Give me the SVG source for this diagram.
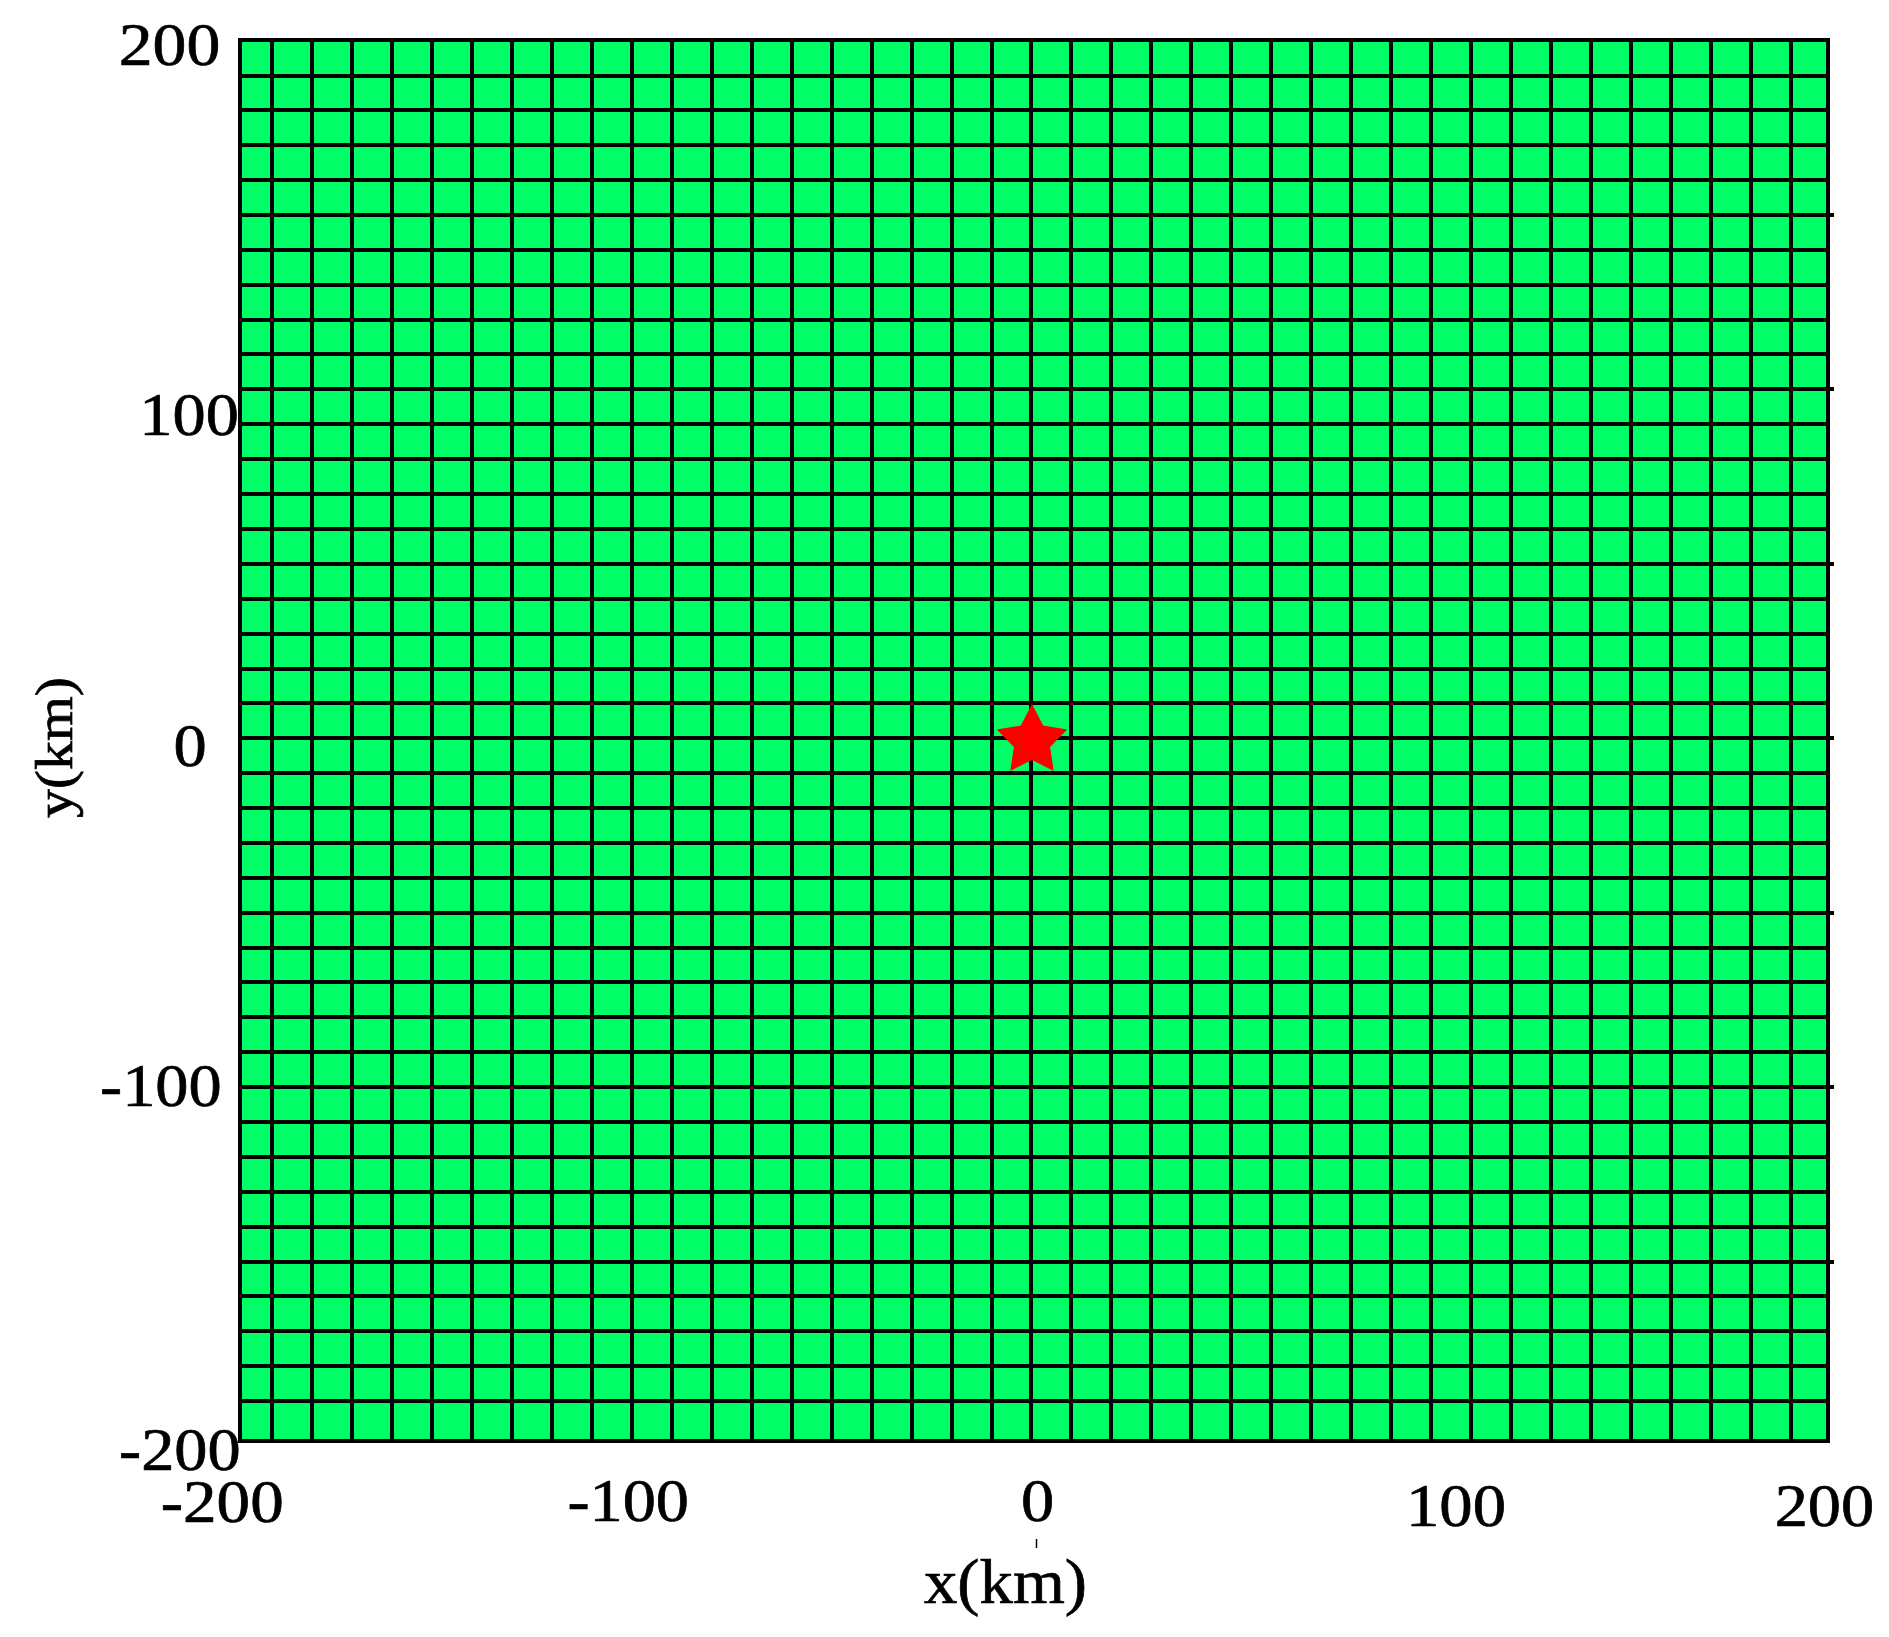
<svg xmlns="http://www.w3.org/2000/svg" width="1889" height="1637" viewBox="0 0 1889 1637">
<style>
.lbl{font-family:"Liberation Serif","Times New Roman",serif;font-size:62px;fill:#000;stroke:#000;stroke-width:0.7}
.ttl{font-family:"Liberation Serif","Times New Roman",serif;fill:#000;stroke:#000;stroke-width:0.7}
.grid{fill:none;stroke:#000;stroke-width:4}
</style>
<rect width="1889" height="1637" fill="#fff"/>
<g id="plot">
<rect x="240" y="40" width="1588" height="1401" fill="#00ff66"/>
<path class="grid" d="M272 40V1441M312 40V1441M352 40V1441M392 40V1441M432 40V1441M472 40V1441M512 40V1441M552 40V1441M592 40V1441M632 40V1441M672 40V1441M712 40V1441M752 40V1441M792 40V1441M832 40V1441M872 40V1441M912 40V1441M952 40V1441M992 40V1441M1031 40V1441M1071 40V1441M1111 40V1441M1151 40V1441M1191 40V1441M1231 40V1441M1271 40V1441M1311 40V1441M1351 40V1441M1391 40V1441M1431 40V1441M1471 40V1441M1511 40V1441M1551 40V1441M1591 40V1441M1631 40V1441M1671 40V1441M1711 40V1441M1751 40V1441M1791 40V1441"/>
<path class="grid" d="M240 76H1828M240 110H1828M240 145H1828M240 180H1828M240 215H1834M240 250H1828M240 285H1828M240 320H1828M240 354H1828M240 389H1834M240 424H1828M240 459H1828M240 494H1828M240 529H1828M240 564H1834M240 599H1828M240 634H1828M240 669H1828M240 703H1828M240 738H1834M240 773H1828M240 808H1828M240 843H1828M240 878H1828M240 913H1834M240 948H1828M240 982H1828M240 1017H1828M240 1052H1828M240 1087H1834M240 1122H1828M240 1157H1828M240 1192H1828M240 1227H1828M240 1262H1834M240 1296H1828M240 1331H1828M240 1366H1828M240 1401H1828"/>
<rect class="grid" x="240" y="40" width="1588" height="1401"/>
<line x1="1036.5" y1="1539" x2="1036.5" y2="1548" stroke="#000" stroke-width="1.5"/>
</g>
<g id="star">
<polygon fill="#ff0000" points="1032,704 1043.2,725.6 1067.2,729.6 1050.1,746.9 1053.7,770.9 1032,760 1010.3,770.9 1013.9,746.9 996.8,729.6 1020.8,725.6"/>
</g>
<g id="ylabels" class="lbl">
<text x="118.7" y="65" textLength="101.6" lengthAdjust="spacingAndGlyphs">200</text>
<text x="139.3" y="435" textLength="99.5" lengthAdjust="spacingAndGlyphs">100</text>
<text x="173.4" y="766" textLength="33.2" lengthAdjust="spacingAndGlyphs">0</text>
<text x="100.1" y="1106" textLength="121.6" lengthAdjust="spacingAndGlyphs">-100</text>
<text x="119.1" y="1470" textLength="121.6" lengthAdjust="spacingAndGlyphs">-200</text>
</g>
<g id="xlabels" class="lbl">
<text x="160.7" y="1522" textLength="123" lengthAdjust="spacingAndGlyphs">-200</text>
<text x="567.4" y="1521" textLength="121.6" lengthAdjust="spacingAndGlyphs">-100</text>
<text x="1021.1" y="1521" textLength="33.2" lengthAdjust="spacingAndGlyphs">0</text>
<text x="1406" y="1526" textLength="100" lengthAdjust="spacingAndGlyphs">100</text>
<text x="1774.7" y="1526" textLength="99.5" lengthAdjust="spacingAndGlyphs">200</text>
</g>
<g id="titles" class="ttl">
<text x="924" y="1602.7" font-size="64" textLength="163" lengthAdjust="spacingAndGlyphs">x(km)</text>
<text transform="translate(72,747.5) rotate(-90)" x="0" y="0" font-size="53" text-anchor="middle" textLength="141" lengthAdjust="spacingAndGlyphs">y(km)</text>
</g>
</svg>
